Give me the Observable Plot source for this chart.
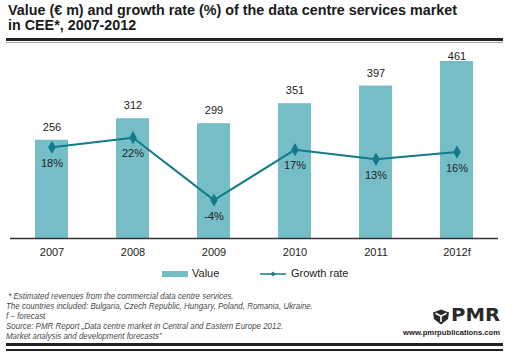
<!DOCTYPE html>
<html>
<head>
<meta charset="utf-8">
<script src="https://cdn.jsdelivr.net/npm/d3@7"></script>
<script src="https://cdn.jsdelivr.net/npm/@observablehq/plot@0.6"></script>
<style>
  html, body { margin: 0; padding: 0; background: #fff; }
  #wrap { position: relative; width: 514px; height: 357px; overflow: hidden; font-family: "Liberation Sans", Arial, sans-serif; }
  .abs { position: absolute; }
  #title { left: 8px; top: 3px; font: bold 14px/15px "Liberation Sans", Arial, sans-serif; color: #1a1a1a; white-space: nowrap; transform-origin: 0 0; }
  #notes { left: 6px; top: 291px; font: italic 9px/10px "Liberation Sans", Arial, sans-serif; color: #4a4a4a; white-space: nowrap; transform-origin: 0 0; }
  .leg { font-size: 11px; color: #222; }
  #chart { left: 0; top: 44px; }
</style>
</head>
<body>
<div id="wrap">
  <div id="title" class="abs"><div id="t1"></div><div id="t2"></div></div>
  <div class="abs" style="left:6px;top:38px;width:497px;height:3px;background:#222"></div>
  <div class="abs" style="left:6px;top:42px;width:497px;height:1px;background:#a9a0a8"></div>
  <div id="chart" class="abs"></div>
  <div class="abs" id="legValSw" style="left:162px;top:271px;width:26px;height:6px;"></div>
  <div class="abs leg" id="legVal" style="left:192px;top:267px;"></div>
  <svg class="abs" style="left:259px;top:269px" width="28" height="10">
    <line x1="1" y1="5" x2="27" y2="5" id="legLine" stroke-width="1.5"></line>
    <path id="legDia" d="M14,2.5L16.5,5L14,7.5L11.5,5Z"></path>
  </svg>
  <div class="abs leg" id="legGr" style="left:291px;top:267px;"></div>
  <div id="notes" class="abs"></div>
  <svg class="abs" style="left:432px;top:309px" width="18" height="16" viewBox="0 0 18 16">
    <path d="M9,0.5L17,3.5L16,10L9,15.5L2,10L1,3.5Z" fill="#2a2a2a"></path>
    <path d="M3.5,4.2L9,7.2L14.5,4.2M9,7.2L9,13" stroke="#fff" stroke-width="1.6" fill="none"></path>
  </svg>
  <div class="abs" id="pmr" style="left:451px;top:306px;font:900 17px/19px 'DejaVu Sans', sans-serif;color:#2a2a2a;transform-origin:0 0;white-space:nowrap">PMR</div>
  <div class="abs" id="www" style="left:403px;top:328px;font:bold 8px/10px 'Liberation Sans', Arial, sans-serif;color:#222;transform-origin:0 0;white-space:nowrap">www.pmrpublications.com</div>
  <div class="abs" style="left:6px;top:343px;width:497px;height:3px;background:#222"></div>
  <div class="abs" style="left:6px;top:349px;width:497px;height:2px;background:#222"></div>
</div>
<script>
// ---- data ----
const years = ["2007", "2008", "2009", "2010", "2011", "2012f"];
const values = [256, 312, 299, 351, 397, 461];       // € m
const growth = [18, 22, -4, 17, 13, 16];             // %
const titleLines = [
  "Value (\u20ac m) and growth rate (%) of the data centre services market",
  "in CEE*, 2007-2012"
];
const legendLabels = ["Value", "Growth rate"];
const noteLines = [
  "\u00a0* Estimated revenues from the commercial data centre services.",
  "The countries included: Bulgaria, Czech Republic, Hungary, Poland, Romania, Ukraine.",
  "f \u2013 forecast",
  "Source: PMR Report \u201eData centre market in Central and Eastern Europe 2012.",
  "Market analysis and development forecasts\u201d"
];

// ---- styles ----
const barColor = "#76bec7";
const lineColor = "#127b8a";

// ---- text ----
document.getElementById("t1").textContent = titleLines[0];
document.getElementById("t2").textContent = titleLines[1];
document.getElementById("legVal").textContent = legendLabels[0];
document.getElementById("legGr").textContent = legendLabels[1];
document.getElementById("legValSw").style.background = barColor;
document.getElementById("legLine").setAttribute("stroke", lineColor);
document.getElementById("legDia").setAttribute("fill", lineColor);
const notes = document.getElementById("notes");
noteLines.forEach(t => { const d = document.createElement("div"); d.textContent = t; notes.appendChild(d); });

function fitWidth(el, measureEl, target) {
  const r = document.createRange(); r.selectNodeContents(measureEl);
  const tw = r.getBoundingClientRect().width;
  if (tw > 0) el.style.transform = `scaleX(${target / tw})`;
}
fitWidth(document.getElementById("title"), document.getElementById("t1"), 449);
fitWidth(notes, notes.children[1], 307);
fitWidth(document.getElementById("pmr"), document.getElementById("pmr"), 49);
fitWidth(document.getElementById("www"), document.getElementById("www"), 97);

// ---- chart ----
const data = years.map((y, i) => ({year: y, value: values[i], growth: growth[i]}));
// secondary (hidden) axis for growth, mapped onto value units
const g2v = d3.scaleLinear([-20, 60], [0, 500]);

const chart = Plot.plot({
  width: 514,
  height: 222,
  marginTop: 2,
  marginBottom: 28,
  marginLeft: 10,
  marginRight: 16,
  style: {fontFamily: "'Liberation Sans', Arial, sans-serif", fontSize: "11px", color: "#222", background: "transparent"},
  x: {domain: years, padding: 0, label: null},
  y: {domain: [0, 500], axis: null},
  marks: [
    Plot.barY(data, {x: "year", y: "value", fill: barColor, insetLeft: 24, insetRight: 24}),
    Plot.text(data, {x: "year", y: d => Math.min(d.value, 440), text: d => String(d.value), dy: -13, fill: "#222", fontSize: 11}),
    Plot.ruleY([0], {stroke: "#333", strokeWidth: 1.5}),
    Plot.line(data, {x: "year", y: d => g2v(d.growth), stroke: lineColor, strokeWidth: 2}),
    Plot.dot(data, {x: "year", y: d => g2v(d.growth), symbol: "diamond", r: 4, fill: lineColor, stroke: null}),
    Plot.text(data, {x: "year", y: d => g2v(d.growth), text: d => d.growth + "%", dy: 16, fill: "#222", fontSize: 11}),
    Plot.axisX({tickSize: 0, tickPadding: 10, label: null, fontSize: 11})
  ]
});
document.getElementById("chart").appendChild(chart);
</script>
</body>
</html>
